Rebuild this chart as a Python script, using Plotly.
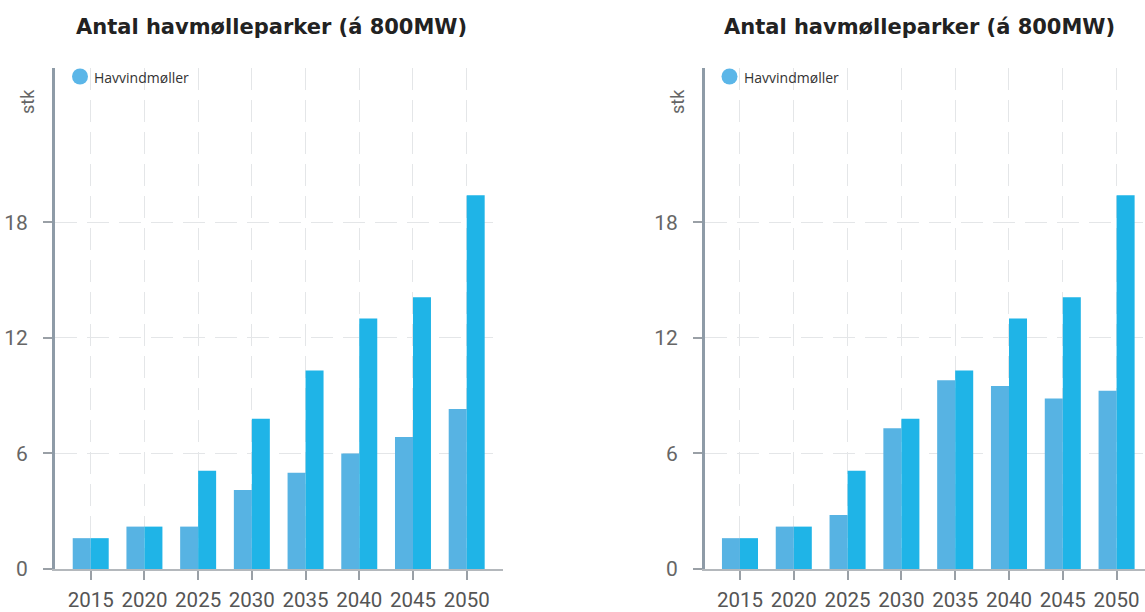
import plotly.graph_objects as go

# Offshore wind parks (800 MW each), two scenarios side by side
years = ["2015", "2020", "2025", "2030", "2035", "2040", "2045", "2050"]
parks_a_light = [1.6, 2.2, 2.2, 4.1, 5.0, 6.0, 6.85, 8.3]
parks_b_light = [1.6, 2.2, 2.8, 7.3, 9.8, 9.5, 8.85, 9.25]
parks_dark = [1.6, 2.2, 5.1, 7.8, 10.3, 13.0, 14.1, 19.4]
y_ticks = [0, 6, 12, 18]

title_text = "Antal havmølleparker (á 800MW)"
legend_text = "Havvindmøller"
unit_text = "stk"

W, H = 1145, 612
LIGHT = "#57b3e3"
DARK = "#1fb4e7"

fig = go.Figure()

for light, xa, ya in [(parks_a_light, "x", "y"), (parks_b_light, "x2", "y2")]:
    fig.add_trace(go.Bar(x=years, y=light, marker=dict(color=LIGHT, line=dict(width=0)),
                         xaxis=xa, yaxis=ya, showlegend=False, offsetgroup="a"))
    fig.add_trace(go.Bar(x=years, y=parks_dark, marker=dict(color=DARK, line=dict(width=0)),
                         xaxis=xa, yaxis=ya, showlegend=False, offsetgroup="b"))

grid = dict(showgrid=True, gridcolor="#e4e6e8", gridwidth=1.2, griddash="22px,10px")

xcommon = dict(type="category", categoryorder="array", categoryarray=years,
               showline=True, linecolor="#b4b8bc", linewidth=2,
               ticks="outside", ticklen=9, tickwidth=2, tickcolor="#9aa0a6",
               tickfont=dict(family="Roboto", size=20.5, color="#555555"),
               ticklabelstandoff=2, zeroline=False, fixedrange=True, automargin=False, **grid)
ycommon = dict(range=[0, 26], tickvals=y_ticks, showline=True, linecolor="#8e9ba7",
               linewidth=3, ticks="outside", ticklen=9, tickwidth=2, tickcolor="#9aa0a6",
               tickfont=dict(family="Roboto", size=21, color="#666666"),
               ticklabelstandoff=11, zeroline=False, fixedrange=True, automargin=False, **grid)

ydom = [43 / H, 544 / H]
fig.update_layout(
    width=W, height=H,
    margin=dict(l=0, r=0, t=0, b=0, autoexpand=False),
    paper_bgcolor="white", plot_bgcolor="white",
    barmode="group", bargap=0.33, bargroupgap=0,
    showlegend=False,
    xaxis=dict(domain=[55 / W, 503 / W], range=[-0.665, 7.676], anchor="y", **xcommon),
    yaxis=dict(domain=ydom, anchor="x", **ycommon),
    xaxis2=dict(domain=[705 / W, 1.0], range=[-0.65, 7.528], anchor="y2", **xcommon),
    yaxis2=dict(domain=ydom, anchor="x2", **ycommon),
)

annotations = []
shapes = []
for title_cx, unit_x, dot_x, text_x in [(271, 28, 80, 92), (919, 678, 729.5, 742)]:
    annotations.append(dict(text=f"<b>{title_text}</b>", x=title_cx / W, y=1 - 27 / H,
                            xref="paper", yref="paper", xanchor="center", yanchor="middle",
                            showarrow=False,
                            font=dict(family="DejaVu Sans", size=21, color="#222222")))
    annotations.append(dict(text=unit_text, x=unit_x / W, y=1 - 102 / H, textangle=-90,
                            xref="paper", yref="paper", xanchor="center", yanchor="middle",
                            showarrow=False,
                            font=dict(family="Roboto", size=18, color="#666666")))
    annotations.append(dict(text=legend_text, x=text_x / W, y=1 - 77 / H,
                            xref="paper", yref="paper", xanchor="left", yanchor="middle",
                            showarrow=False,
                            font=dict(family="Open Sans", size=14, color="#333333")))
    shapes.append(dict(type="circle", xref="paper", yref="paper",
                       xsizemode="pixel", ysizemode="pixel",
                       xanchor=dot_x / W, yanchor=1 - 76.5 / H,
                       x0=-8, x1=8, y0=-8, y1=8,
                       fillcolor="#5bb6e8", line=dict(width=0)))

fig.update_layout(annotations=annotations, shapes=shapes)

fig.write_html("out.html")
